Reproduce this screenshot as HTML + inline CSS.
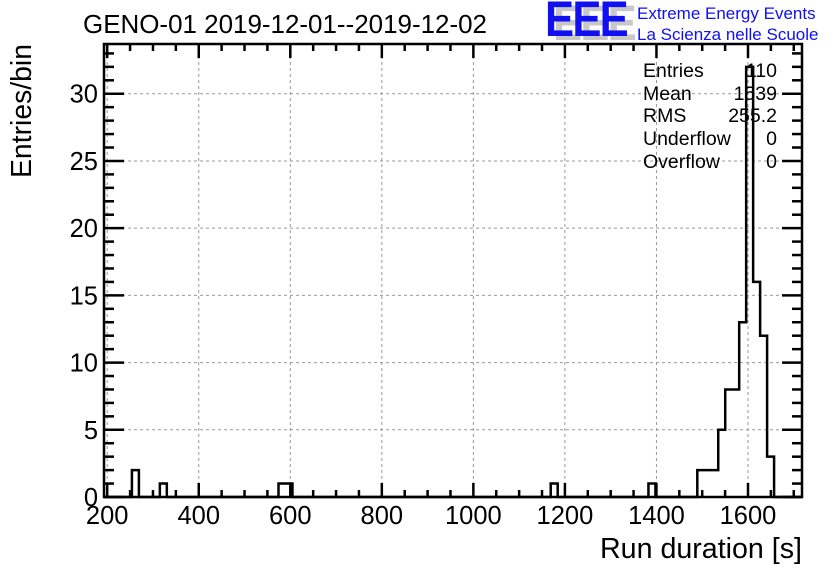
<!DOCTYPE html>
<html><head><meta charset="utf-8"><style>
body{margin:0;background:#fff}
svg{display:block;font-family:"Liberation Sans",sans-serif}
</style></head><body>
<svg id="c" width="836" height="572" viewBox="0 0 836 572" xmlns="http://www.w3.org/2000/svg">
<rect width="836" height="572" fill="#fff"/>
<text x="83" y="33" font-size="25.5" fill="#000" textLength="404" lengthAdjust="spacingAndGlyphs">GENO-01 2019-12-01--2019-12-02</text>
<g>
<text x="553" y="40" font-size="50" font-weight="bold" fill="#c8c8c8" letter-spacing="-2" textLength="82" lengthAdjust="spacingAndGlyphs">EEE</text>
<text x="545" y="36" font-size="50" font-weight="bold" fill="#1010f0" letter-spacing="-2" textLength="82" lengthAdjust="spacingAndGlyphs">EEE</text>
<text x="637" y="19" font-size="17" fill="#1010f0">Extreme Energy Events</text>
<text x="637" y="40" font-size="17" fill="#1010f0">La Scienza nelle Scuole</text>
</g>
<g id="grid"></g>
<g id="hist"></g>
<g id="axes"></g>
<g font-size="19.5" fill="#000">
<text x="643" y="77">Entries</text><text x="777" y="77" text-anchor="end">110</text>
<text x="643" y="100">Mean</text><text x="777" y="100" text-anchor="end">1539</text>
<text x="643" y="122">RMS</text><text x="777" y="122" text-anchor="end">255.2</text>
<text x="643" y="145">Underflow</text><text x="777" y="145" text-anchor="end">0</text>
<text x="643" y="168">Overflow</text><text x="777" y="168" text-anchor="end">0</text>
</g>
<text x="600" y="558" font-size="28.5" textLength="202" lengthAdjust="spacingAndGlyphs">Run duration [s]</text>
<text transform="translate(31,178) rotate(-90)" font-size="28.5" textLength="134" lengthAdjust="spacingAndGlyphs">Entries/bin</text>
</svg>
<script>
const xMin = 193, xMax = 1718, nBins = 100;
const filledBins = [4, 8, 25, 26, 64, 78, 85, 86, 87, 88, 89, 90, 91, 92, 93, 94, 95];
const binCounts = [2, 1, 1, 1, 1, 1, 2, 2, 2, 5, 8, 8, 13, 32, 16, 12, 3];
const xTicks = [200, 400, 600, 800, 1000, 1200, 1400, 1600];
const yTicks = [0, 5, 10, 15, 20, 25, 30];
const yMax = 33.7;

const L = 104, R = 802, T = 44, B = 497;
const NS = "http://www.w3.org/2000/svg";
const X = v => L + (v - xMin) / (xMax - xMin) * (R - L);
const Y = v => B - v / yMax * (B - T);
function mk(tag, attrs, parent) {
  const e = document.createElementNS(NS, tag);
  for (const k in attrs) e.setAttribute(k, attrs[k]);
  parent.appendChild(e); return e;
}
const grid = document.getElementById('grid'), axes = document.getElementById('axes'), hist = document.getElementById('hist');
xTicks.forEach(t => {
  const g = mk('line', {x1: X(t), x2: X(t), y1: T, y2: B, stroke: '#999', 'stroke-dasharray': '3,3', 'stroke-width': 1}, grid);
  
  
});
yTicks.forEach(t => {
  if (t === 0) return;
  const g = mk('line', {x1: L, x2: R, y1: Y(t), y2: Y(t), stroke: '#999', 'stroke-dasharray': '3,3', 'stroke-width': 1}, grid);
  
  
});
const counts = new Array(nBins).fill(0);
filledBins.forEach((b, i) => counts[b] = binCounts[i]);
const w = (xMax - xMin) / nBins;
let d = 'M' + X(xMin) + ',' + Y(0);
for (let i = 0; i < nBins; i++) {
  d += ' L' + X(xMin + i * w) + ',' + Y(counts[i]) + ' L' + X(xMin + (i + 1) * w) + ',' + Y(counts[i]);
}
d += ' L' + X(xMax) + ',' + Y(0);
const p = mk('path', {d: d, fill: 'none', stroke: '#000', 'stroke-width': 2.5}, hist);


const fr = mk('rect', {x: L, y: T, width: R - L, height: B - T, fill: 'none', stroke: '#000', 'stroke-width': 2.5}, axes);


for (let v = 200; v <= xMax; v += 50) {
  const len = (v % 200 === 0) ? 14 : 7;
  mk('line', {x1: X(v), x2: X(v), y1: B, y2: B - len, stroke: '#000', 'stroke-width': 2.5}, axes);
  mk('line', {x1: X(v), x2: X(v), y1: T, y2: T + len, stroke: '#000', 'stroke-width': 2.5}, axes);
}
xTicks.forEach(t => {
  const tx = mk('text', {x: X(t), y: 524, 'font-size': 25.5, 'text-anchor': 'middle'}, axes);
  tx.textContent = t;
  
  
});
for (let v = 0; v <= yMax; v += 1) {
  const len = (v % 5 === 0) ? 20 : 10;
  mk('line', {x1: L, x2: L + len, y1: Y(v), y2: Y(v), stroke: '#000', 'stroke-width': 2.5}, axes);
  mk('line', {x1: R, x2: R - len, y1: Y(v), y2: Y(v), stroke: '#000', 'stroke-width': 2.5}, axes);
}
yTicks.forEach(t => {
  const tx = mk('text', {x: 98, y: Y(t) + 9, 'font-size': 25.5, 'text-anchor': 'end'}, axes);
  tx.textContent = t;
  
  
});
</script>
</body></html>
